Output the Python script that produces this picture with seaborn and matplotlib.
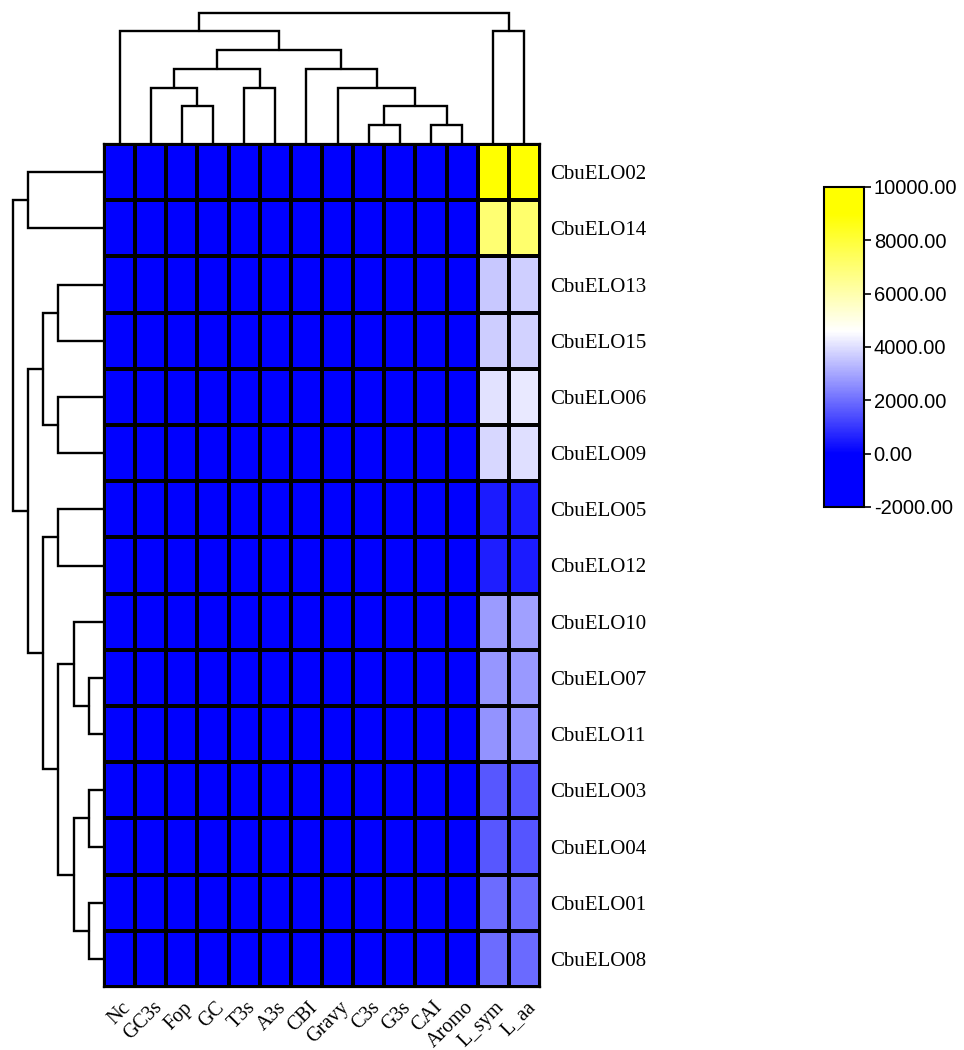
import numpy as np
import pandas as pd
import matplotlib
matplotlib.use("Agg")
import matplotlib.pyplot as plt
import seaborn as sns
from matplotlib.colors import LinearSegmentedColormap, Normalize
from matplotlib.transforms import ScaledTranslation

# ---------------- data ----------------
row_labels = ["CbuELO02", "CbuELO14", "CbuELO13", "CbuELO15", "CbuELO06", "CbuELO09",
              "CbuELO05", "CbuELO12", "CbuELO10", "CbuELO07", "CbuELO11", "CbuELO03",
              "CbuELO04", "CbuELO01", "CbuELO08"]
col_labels = ["Nc", "GC3s", "Fop", "GC", "T3s", "A3s", "CBI", "Gravy", "C3s", "G3s",
              "CAI", "Aromo", "L_sym", "L_aa"]

Nc    = [52.1, 51.8, 50.3, 49.7, 53.2, 52.6, 48.9, 49.5, 51.0, 50.8, 50.2, 53.9, 54.1, 52.7, 52.3]
GC3s  = [0.52, 0.51, 0.55, 0.54, 0.49, 0.50, 0.58, 0.57, 0.53, 0.52, 0.53, 0.47, 0.47, 0.50, 0.50]
Fop   = [0.41, 0.40, 0.43, 0.42, 0.39, 0.40, 0.45, 0.44, 0.42, 0.41, 0.41, 0.38, 0.38, 0.40, 0.40]
GC    = [0.47, 0.46, 0.49, 0.48, 0.45, 0.46, 0.51, 0.50, 0.48, 0.47, 0.47, 0.44, 0.44, 0.46, 0.46]
T3s   = [0.33, 0.34, 0.31, 0.32, 0.35, 0.34, 0.29, 0.30, 0.32, 0.33, 0.33, 0.36, 0.36, 0.34, 0.34]
A3s   = [0.28, 0.29, 0.26, 0.27, 0.30, 0.29, 0.24, 0.25, 0.27, 0.28, 0.28, 0.31, 0.31, 0.29, 0.29]
CBI   = [-0.04, -0.05, -0.02, -0.03, -0.06, -0.05, 0.01, 0.00, -0.03, -0.04, -0.04, -0.07, -0.07, -0.05, -0.05]
Gravy = [0.21, 0.19, 0.35, 0.33, 0.28, 0.30, 0.12, 0.14, 0.25, 0.27, 0.26, 0.31, 0.31, 0.29, 0.29]
C3s   = [0.36, 0.35, 0.38, 0.37, 0.34, 0.35, 0.40, 0.39, 0.37, 0.36, 0.36, 0.33, 0.33, 0.35, 0.35]
G3s   = [0.31, 0.30, 0.33, 0.32, 0.29, 0.30, 0.35, 0.34, 0.32, 0.31, 0.31, 0.28, 0.28, 0.30, 0.30]
CAI   = [0.21, 0.20, 0.22, 0.22, 0.20, 0.21, 0.23, 0.23, 0.21, 0.21, 0.21, 0.19, 0.19, 0.20, 0.20]
Aromo = [0.11, 0.10, 0.12, 0.12, 0.10, 0.11, 0.13, 0.13, 0.11, 0.11, 0.11, 0.09, 0.09, 0.10, 0.10]
L_sym = [9800, 7000, 3600, 3680, 4060, 3880, 530, 540, 2820, 2700, 2650, 1600, 1600, 1950, 1950]
L_aa  = [9800, 7100, 3760, 3780, 4200, 4000, 500, 510, 2880, 2760, 2720, 1550, 1550, 1900, 1900]

# dendrogram merges: (left, right, level); leaves in display order, new clusters numbered n, n+1, ...
col_merges = [(2, 3, 2), (1, 14, 3), (4, 5, 3), (15, 16, 4), (8, 9, 1), (10, 11, 1),
              (18, 19, 2), (7, 20, 3), (6, 21, 4), (17, 22, 5), (0, 23, 6), (12, 13, 6),
              (24, 25, 7)]
row_merges = [(9, 10, 1), (11, 12, 1), (13, 14, 1), (8, 15, 2), (16, 17, 2), (18, 19, 3),
              (2, 3, 3), (4, 5, 3), (6, 7, 3), (21, 22, 4), (23, 20, 4), (24, 25, 5),
              (0, 1, 5), (27, 26, 6)]

cbar_ticks = [-2000, 0, 2000, 4000, 6000, 8000, 10000]

# ---------------- figure ----------------
sns.set_theme(style="white")
plt.rcParams["font.family"] = ["Liberation Serif", "DejaVu Serif"]

df = pd.DataFrame({"Nc": Nc, "GC3s": GC3s, "Fop": Fop, "GC": GC, "T3s": T3s, "A3s": A3s,
                   "CBI": CBI, "Gravy": Gravy, "C3s": C3s, "G3s": G3s, "CAI": CAI,
                   "Aromo": Aromo, "L_sym": L_sym, "L_aa": L_aa}, index=row_labels)
df = df[col_labels]

vmin, vmax = -2000, 10000
def pos(v):
    return (v - vmin) / (vmax - vmin)
cmap = LinearSegmentedColormap.from_list(
    "bwy", [(0.0, "#0000FF"), (pos(0), "#0000FF"), (pos(4600), "#FFFFFF"),
            (pos(9000), "#FFFF00"), (1.0, "#FFFF00")])

W, H = 964, 1050
fig = plt.figure(figsize=(W / 100, H / 100), dpi=100)

def rect(x0, y0, x1, y1):
    return [x0 / W, 1 - y1 / H, (x1 - x0) / W, (y1 - y0) / H]

hx0, hy0, hx1, hy1 = 104, 144, 540, 987
ax = fig.add_axes(rect(hx0, hy0, hx1, hy1))
ax_top = fig.add_axes(rect(hx0, 12.7, hx1, hy0))
ax_left = fig.add_axes(rect(12.7, hy0, hx0, hy1))
ax_cb = fig.add_axes(rect(824, 187, 864, 507))

sns.heatmap(df, ax=ax, cmap=cmap, vmin=vmin, vmax=vmax, linewidths=1.6, linecolor="black",
            cbar_ax=ax_cb, cbar_kws={"ticks": cbar_ticks, "format": "%.2f"},
            xticklabels=True, yticklabels=True)

for s in ax.spines.values():
    s.set_visible(True)
    s.set_color("black")
    s.set_linewidth(1.6)

# row labels on right
ax.yaxis.tick_right()
ax.tick_params(axis="y", length=0, pad=7, labelsize=15, rotation=0)
for lbl in ax.get_yticklabels():
    lbl.set_fontfamily(["Liberation Serif"])
    lbl.set_color("black")
    lbl.set_ha("left")

# column labels rotated
ax.tick_params(axis="x", length=0, pad=8, labelsize=14.5)
ax.set_xticklabels(col_labels, rotation=45, ha="right", va="top")
off = ScaledTranslation(15 / 100, 0, fig.dpi_scale_trans)
for lbl in ax.get_xticklabels():
    lbl.set_transform(lbl.get_transform() + off)
    lbl.set_fontfamily(["Liberation Serif"])
    lbl.set_color("black")
ax.set_xlabel("")
ax.set_ylabel("")

# colorbar
cb = ax.collections[0].colorbar
cb.outline.set_edgecolor("black")
cb.outline.set_linewidth(1.5)
ax_cb.tick_params(axis="y", length=5, width=1.2, color="black", labelsize=14.5, pad=2,
                  right=True)
for lbl in ax_cb.get_yticklabels():
    lbl.set_fontfamily(["Liberation Sans"])
    lbl.set_color("black")

# dendrograms
def dendro_segments(n, merges):
    p = {i: i + 0.5 for i in range(n)}
    h = {i: 0.0 for i in range(n)}
    segs = []
    for k, (a, b, lev) in enumerate(merges):
        c = n + k
        segs.append(([p[a], p[a], p[b], p[b]], [h[a], lev, lev, h[b]]))
        p[c] = (p[a] + p[b]) / 2
        h[c] = lev
    return segs

for xs, ys in dendro_segments(len(col_labels), col_merges):
    ax_top.plot(xs, ys, color="black", lw=1.7, clip_on=False, solid_joinstyle="miter")
ax_top.set_xlim(0, len(col_labels))
ax_top.set_ylim(0, max(m[2] for m in col_merges))
ax_top.axis("off")

for xs, ys in dendro_segments(len(row_labels), row_merges):
    ax_left.plot(ys, xs, color="black", lw=1.7, clip_on=False, solid_joinstyle="miter")
ax_left.set_ylim(len(row_labels), 0)
ax_left.set_xlim(max(m[2] for m in row_merges), 0)
ax_left.axis("off")

fig.savefig("out.png", dpi=100, facecolor="white")
